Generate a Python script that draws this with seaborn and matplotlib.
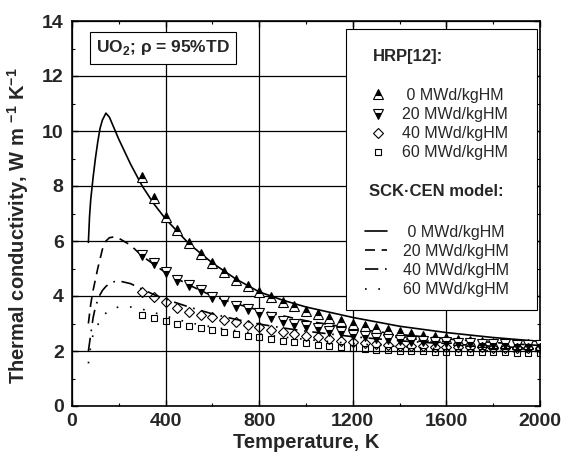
import matplotlib

matplotlib.use("Agg")

import matplotlib.pyplot as plt
import numpy as np
import seaborn as sns
from matplotlib.lines import Line2D
from matplotlib.patches import Rectangle

# SCK-CEN model curves (temperature in K, conductivity in W/m/K)
model_t = [70, 75, 80, 90, 100, 110, 120, 130, 145, 160, 180, 200, 250, 300, 350,
           400, 500, 600, 700, 800, 900, 1000, 1200, 1400, 1600, 1800, 2000]
model_0 = [5.95, 6.9, 7.5, 8.3, 9.0, 9.6, 10.1, 10.4, 10.65, 10.5, 10.1, 9.7, 8.8, 8.0, 7.35,
           6.8, 5.9, 5.2, 4.62, 4.15, 3.85, 3.6, 3.22, 2.9, 2.67, 2.49, 2.35]
model_20 = [3.0, 3.35, 3.7, 4.2, 4.6, 5.0, 5.35, 5.7, 6.0, 6.12, 6.15, 6.1, 5.85, 5.45, 5.15,
            4.85, 4.4, 4.0, 3.72, 3.48, 3.28, 3.1, 2.82, 2.6, 2.44, 2.31, 2.2]
model_40 = [2.0, 2.3, 2.6, 3.2, 3.6, 3.85, 4.05, 4.2, 4.35, 4.45, 4.52, 4.55, 4.45, 4.25, 4.05,
            3.88, 3.6, 3.35, 3.15, 2.98, 2.84, 2.72, 2.52, 2.37, 2.26, 2.17, 2.09]
model_60 = [1.55, 1.85, 2.2, 2.6, 2.8, 2.95, 3.1, 3.2, 3.38, 3.48, 3.56, 3.6, 3.6, 3.52, 3.4,
            3.27, 3.03, 2.87, 2.74, 2.62, 2.51, 2.42, 2.27, 2.16, 2.07, 2.0, 1.95]

# HRP [12] data points
hrp_t = list(range(300, 2001, 50))
hrp_0 = [8.32, 7.55, 6.88, 6.40, 5.91, 5.53, 5.19, 4.88, 4.60, 4.38, 4.14, 3.98, 3.79, 3.62,
         3.47, 3.35, 3.21, 3.10, 3.00, 2.92, 2.83, 2.76, 2.68, 2.61, 2.56, 2.51, 2.46, 2.41,
         2.37, 2.33, 2.30, 2.28, 2.26, 2.24, 2.22]
hrp_20 = [5.49, 5.20, 4.88, 4.60, 4.40, 4.22, 3.98, 3.83, 3.64, 3.53, 3.37, 3.25, 3.10, 3.00,
          2.91, 2.83, 2.74, 2.68, 2.60, 2.53, 2.47, 2.43, 2.40, 2.37, 2.35, 2.33, 2.31, 2.29,
          2.28, 2.26, 2.25, 2.24, 2.23, 2.22, 2.21]
hrp_40 = [4.13, 3.97, 3.80, 3.55, 3.42, 3.32, 3.22, 3.12, 3.04, 2.95, 2.86, 2.76, 2.68, 2.63,
          2.56, 2.50, 2.43, 2.37, 2.32, 2.28, 2.25, 2.22, 2.20, 2.18, 2.17, 2.16, 2.15, 2.14,
          2.13, 2.13, 2.12, 2.12, 2.11, 2.11, 2.10]
hrp_60 = [3.31, 3.19, 3.09, 3.00, 2.91, 2.82, 2.76, 2.70, 2.62, 2.55, 2.50, 2.44, 2.37, 2.32,
          2.28, 2.22, 2.18, 2.13, 2.10, 2.07, 2.05, 2.03, 2.01, 2.00, 1.99, 1.98, 1.97, 1.96,
          1.96, 1.95, 1.95, 1.95, 1.94, 1.94, 1.94]

burnup_labels = [" 0 MWd/kgHM", "20 MWd/kgHM", "40 MWd/kgHM", "60 MWd/kgHM"]

sns.set_theme(style="ticks")
plt.rcParams["font.family"] = ["Liberation Sans", "DejaVu Sans"]
plt.rcParams["mathtext.fontset"] = "custom"
plt.rcParams["mathtext.rm"] = "Liberation Sans"
plt.rcParams["mathtext.bf"] = "Liberation Sans:bold"

fig = plt.figure(figsize=(5.66, 4.58), dpi=100)
ax = fig.add_axes([72 / 566, 52 / 458, 468 / 566, 385 / 458])

line_styles = ["-", (0, (6, 4)), (0, (8, 4, 1, 4)), (0, (1, 7))]
for values, ls in zip([model_0, model_20, model_40, model_60], line_styles):
    sns.lineplot(x=model_t, y=values, ax=ax, color="black", linestyle=ls, linewidth=1.2, zorder=3)

marker_specs = [
    dict(marker="^", markersize=6.5, fillstyle="top"),
    dict(marker="v", markersize=6.5, fillstyle="bottom"),
    dict(marker="D", markersize=5.5, fillstyle="none"),
    dict(marker="s", markersize=5.0, fillstyle="none"),
]
for values, spec in zip([hrp_0, hrp_20, hrp_40, hrp_60], marker_specs):
    sns.lineplot(x=hrp_t, y=values, ax=ax, linestyle="none", color="black",
                 markerfacecolor="black", markerfacecoloralt="white",
                 markeredgecolor="black", markeredgewidth=0.8, zorder=4, **spec)

ax.set_xlim(0, 2000)
ax.set_ylim(0, 14)
ax.set_xticks(np.arange(0, 2001, 400))
ax.set_xticks(np.arange(0, 2001, 200), minor=True)
ax.set_yticks(np.arange(0, 15, 2))
ax.set_yticks(np.arange(0, 15, 1), minor=True)
ax.grid(which="major", color="black", linewidth=0.9, zorder=1)
ax.tick_params(which="both", direction="in", top=True, right=True, color="black")
ax.tick_params(which="major", length=4, width=1)
ax.tick_params(which="minor", length=2.5, width=0.8)
ax.tick_params(axis="x", pad=5)
ax.tick_params(axis="y", pad=6)
for lab in ax.get_xticklabels() + ax.get_yticklabels():
    lab.set_fontweight("bold")
    lab.set_fontsize(14)
for spine in ax.spines.values():
    spine.set_linewidth(1.2)
    spine.set_color("black")

ax.set_xlabel("Temperature, K", fontsize=14.5, fontweight="bold", labelpad=2)
ax.set_ylabel(r"Thermal conductivity, W m $^{\mathbf{-1}}$ K$^{\mathbf{-1}}$",
              fontsize=14.5, fontweight="bold")
ax.yaxis.set_label_coords(-0.087, 0.468)

ax.text(0.194, 0.930, r"UO$_{\mathbf{2}}$; ρ = 95%TD", transform=ax.transAxes,
        fontsize=12.5, fontweight="bold", ha="center", va="center", zorder=6,
        bbox=dict(boxstyle="square,pad=0.35", facecolor="white", edgecolor="black", linewidth=0.8))

# legend frame drawn by hand, two borderless legends inside
ax.add_patch(Rectangle((0.585, 0.249), 0.409, 0.73, transform=ax.transAxes,
                       facecolor="white", edgecolor="black", linewidth=0.8, zorder=5))
ax.text(0.643, 0.908, "HRP[12]:", transform=ax.transAxes, fontsize=12,
        fontweight="bold", va="center", ha="left", zorder=6)
ax.text(0.635, 0.556, "SCK·CEN model:", transform=ax.transAxes, fontsize=12,
        fontweight="bold", va="center", ha="left", zorder=6)

marker_handles = [Line2D([], [], linestyle="none", color="black", markerfacecolor="black",
                         markerfacecoloralt="white", markeredgecolor="black",
                         markeredgewidth=0.8, **spec) for spec in marker_specs]
leg1 = ax.legend(marker_handles, burnup_labels, loc="upper left",
                 bbox_to_anchor=(0.637, 0.826), frameon=False, fontsize=11.5,
                 handlelength=1.0, handletextpad=1.0, labelspacing=0.26,
                 borderpad=0, borderaxespad=0)
leg1.set_zorder(7)
ax.add_artist(leg1)

line_handles = [Line2D([], [], color="black", linestyle=ls, linewidth=1.2) for ls in line_styles]
leg2 = ax.legend(line_handles, burnup_labels, loc="upper left",
                 bbox_to_anchor=(0.626, 0.471), frameon=False, fontsize=11.5,
                 handlelength=1.4, handletextpad=1.0, labelspacing=0.26,
                 borderpad=0, borderaxespad=0)
leg2.set_zorder(7)

fig.savefig("out.png", dpi=100, facecolor="white")
